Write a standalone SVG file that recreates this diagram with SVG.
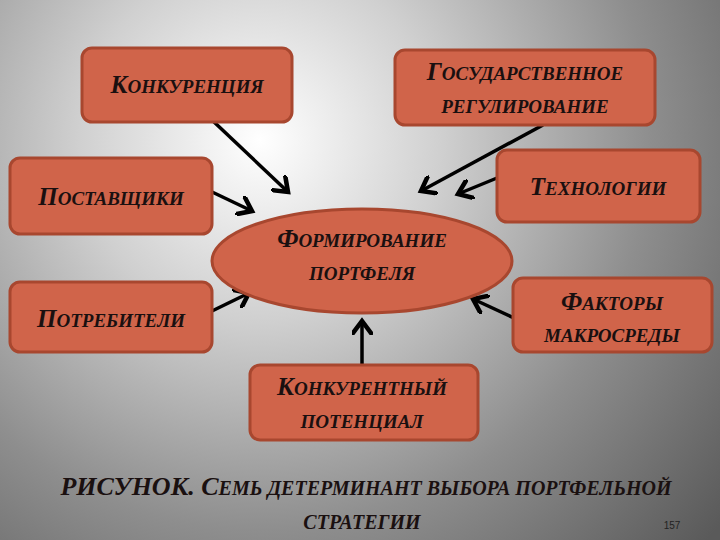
<svg xmlns="http://www.w3.org/2000/svg" width="720" height="540" viewBox="0 0 720 540">
<defs>
<radialGradient id="bg" cx="260" cy="140" r="600" gradientUnits="userSpaceOnUse">
<stop offset="0" stop-color="#ffffff"/>
<stop offset="0.3" stop-color="#d0d0d0"/>
<stop offset="0.65" stop-color="#8e8e8e"/>
<stop offset="1" stop-color="#5a5a5a"/>
</radialGradient>
<marker id="ah" markerWidth="6" markerHeight="6" refX="4" refY="3" orient="auto" markerUnits="strokeWidth">
<path d="M0,0 L4,3 L0,6" fill="none" stroke="#000" stroke-width="1.3"/>
</marker>
<style>
.n{fill:#d0644a;stroke:#a8472f;stroke-width:3}
.t{font-family:"Liberation Serif",serif;font-weight:bold;font-style:italic;fill:#1a1010;font-size:19px;text-anchor:middle}
.b{font-size:25px}
.c{stroke:#000;stroke-width:3.5;fill:none;marker-end:url(#ah)}
</style>
</defs>
<rect width="720" height="540" fill="url(#bg)"/>
<g id="connectors">
<line class="c" x1="213" y1="121" x2="288" y2="192"/>
<line class="c" x1="210" y1="191" x2="252" y2="211"/>
<line class="c" x1="543" y1="125" x2="421" y2="191"/>
<line class="c" x1="497" y1="178" x2="458" y2="194"/>
<line class="c" x1="212" y1="311" x2="249" y2="293"/>
<line class="c" x1="514" y1="318" x2="473" y2="299"/>
<line class="c" x1="362" y1="367" x2="362" y2="321"/>
</g>
<g id="konkurenciya"><rect class="n" x="82" y="48" width="210" height="74" rx="10"/><text class="t" x="187" y="93"><tspan class="b">К</tspan>ОНКУРЕНЦИЯ</text></g>
<g id="gosreg"><rect class="n" x="395" y="50" width="260" height="75" rx="10"/><text class="t" x="525" y="80"><tspan class="b">Г</tspan>ОСУДАРСТВЕННОЕ</text><text class="t" x="525" y="113">РЕГУЛИРОВАНИЕ</text></g>
<g id="postavshiki"><rect class="n" x="10" y="158" width="202" height="76" rx="10"/><text class="t" x="111" y="205"><tspan class="b">П</tspan>ОСТАВЩИКИ</text></g>
<g id="tehnologii"><rect class="n" x="497" y="150" width="203" height="72" rx="10"/><text class="t" x="598" y="195"><tspan class="b">Т</tspan>ЕХНОЛОГИИ</text></g>
<g id="formirovanie"><ellipse class="n" cx="362" cy="261" rx="150" ry="52"/><text class="t" x="362" y="247"><tspan class="b">Ф</tspan>ОРМИРОВАНИЕ</text><text class="t" x="362" y="280">ПОРТФЕЛЯ</text></g>
<g id="potrebiteli"><rect class="n" x="10" y="282" width="202" height="70" rx="10"/><text class="t" x="111" y="327"><tspan class="b">П</tspan>ОТРЕБИТЕЛИ</text></g>
<g id="faktory"><rect class="n" x="513" y="278" width="199" height="74" rx="10"/><text class="t" x="612" y="310"><tspan class="b">Ф</tspan>АКТОРЫ</text><text class="t" x="612" y="342">МАКРОСРЕДЫ</text></g>
<g id="potencial"><rect class="n" x="250" y="365" width="228" height="75" rx="10"/><text class="t" x="362" y="395"><tspan class="b">К</tspan>ОНКУРЕНТНЫЙ</text><text class="t" x="362" y="428">ПОТЕНЦИАЛ</text></g>
<text class="t" x="366" y="495" style="font-size:20px"><tspan style="font-size:26px">РИСУНОК. С</tspan>ЕМЬ ДЕТЕРМИНАНТ ВЫБОРА ПОРТФЕЛЬНОЙ</text>
<text class="t" x="362" y="529" style="font-size:20px">СТРАТЕГИИ</text>
<text x="672" y="529" style="font-family:'Liberation Sans',sans-serif;font-size:10px;fill:#222;text-anchor:middle">157</text>
</svg>
